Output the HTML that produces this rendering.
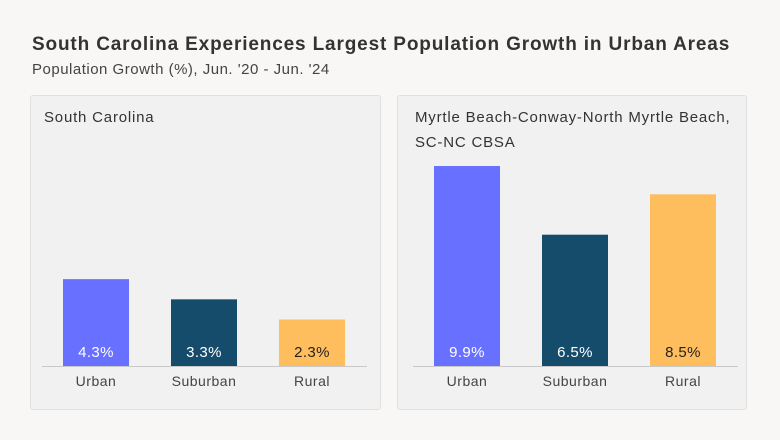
<!DOCTYPE html>
<html><head><meta charset="utf-8"><style>
body{margin:0;background:#f8f7f5;font-family:"Liberation Sans",sans-serif;}
#wrap{position:relative;width:780px;height:440px;overflow:hidden;}
.t{position:absolute;left:32px;top:34px;font-size:19px;font-weight:bold;color:#333;letter-spacing:0.85px;}
.s{position:absolute;left:32px;top:61px;font-size:15px;color:#444;letter-spacing:0.5px;}
.p{position:absolute;background:#f1f1f1;border:1px solid #e0e0e0;border-radius:3px;}
</style></head><body><div id="wrap">
<div class="t">South Carolina Experiences Largest Population Growth in Urban Areas</div>
<div class="s">Population Growth (%), Jun. '20 - Jun. '24</div>
<div class="p" style="left:30px;top:95px;width:349px;height:313px"></div>
<div class="p" style="left:397px;top:95px;width:348px;height:313px"></div>
<svg id="svg" width="780" height="440" style="position:absolute;left:0;top:0"></svg>
</div>
<script>
const categories=["Urban","Suburban","Rural"];
const scValues=[4.3,3.3,2.3];
const mbValues=[9.9,6.5,8.5];
const panelTitles=[["South Carolina"],["Myrtle Beach-Conway-North Myrtle Beach,","SC-NC CBSA"]];
const colors=["#6770ff","#154c6b","#ffbe5e"];
const textColors=["#fff","#fff","#222"];
const NS="http://www.w3.org/2000/svg";
const svg=document.getElementById('svg');
const baseY=366, pxPer=20.2;
function y(v){return baseY-v*pxPer;}
function mk(tag,attrs,txt){const e=document.createElementNS(NS,tag);for(const k in attrs)e.setAttribute(k,attrs[k]);if(txt!==undefined)e.textContent=txt;svg.appendChild(e);return e;}
function panel(vals,titles,ox,name){
  titles.forEach((t,i)=>{const e=mk('text',{x:ox+14,y:122+i*25,'font-size':15,fill:'#333','letter-spacing':'0.8','font-family':'Liberation Sans, sans-serif'},t);
  
  });
  vals.forEach((v,i)=>{
    const x=ox+33+i*108;
    const r=mk('rect',{x:x,y:y(v),width:66,height:baseY-y(v),fill:colors[i]});
    
    
    const vl=mk('text',{x:x+33,y:357,'text-anchor':'middle','font-size':15,'letter-spacing':'0.4',fill:textColors[i],'font-family':'Liberation Sans, sans-serif'},v.toFixed(1)+'%');
    
    
    const cl=mk('text',{x:x+33,y:386,'text-anchor':'middle','font-size':14,'letter-spacing':'0.5',fill:'#444','font-family':'Liberation Sans, sans-serif'},categories[i]);
    
    
  });
  const l=mk('line',{x1:ox+12,x2:ox+337,y1:baseY+0.5,y2:baseY+0.5,stroke:'#c8c8c8','stroke-width':1});
  
  
}
panel(scValues,panelTitles[0],30,'sc');
panel(mbValues,panelTitles[1],401,'mb');
</script></body></html>
